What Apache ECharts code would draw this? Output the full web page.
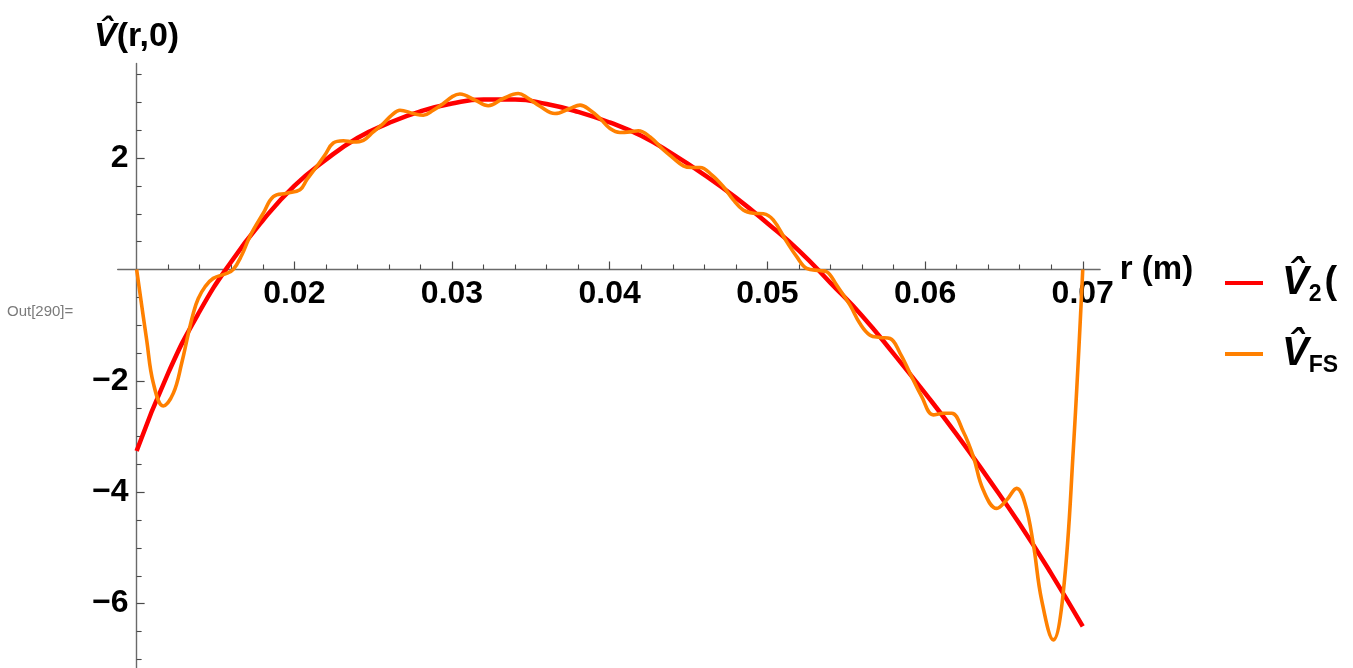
<!DOCTYPE html>
<html>
<head>
<meta charset="utf-8">
<script src="https://cdn.jsdelivr.net/npm/echarts@6/dist/echarts.min.js"></script>
<style>
  html, body { margin: 0; padding: 0; background: #ffffff; }
  #chart { width: 1353px; height: 668px; }
</style>
</head>
<body>
<div id="chart"></div>
<script>
// ---- axis ranges and ticks ----
const rMin = 0.0088, rMax = 0.0711, rOrigin = 0.01;
const rMajorTicks = [0.02, 0.03, 0.04, 0.05, 0.06, 0.07];
const rMinorTicks = [0.012, 0.014, 0.016, 0.018, 0.022, 0.024, 0.026, 0.028,
  0.032, 0.034, 0.036, 0.038, 0.042, 0.044, 0.046, 0.048, 0.052, 0.054, 0.056, 0.058,
  0.062, 0.064, 0.066, 0.068];
const vMin = -7.2, vMax = 3.7;
const vMajorTicks = [-6, -4, -2, 2];
const vMinorTicks = [-7, -6.5, -5.5, -5, -4.5, -3.5, -3, -2.5, -1.5, -1, -0.5,
  0.5, 1, 1.5, 2.5, 3, 3.5];

// ---- V2(r,0): smooth profile ----
const v2R = [0.010, 0.012, 0.014, 0.016, 0.018, 0.020, 0.022, 0.024, 0.026, 0.028,
  0.030, 0.032, 0.034, 0.036, 0.038, 0.040, 0.042, 0.044, 0.046, 0.048,
  0.050, 0.052, 0.054, 0.056, 0.058, 0.060, 0.062, 0.064, 0.066, 0.068, 0.070];
const v2V = [-3.26, -1.86, -0.75, 0.14, 0.88, 1.50, 1.97, 2.36, 2.63, 2.84,
  2.98, 3.05, 3.05, 2.97, 2.83, 2.64, 2.40, 2.07, 1.70, 1.29,
  0.83, 0.34, -0.24, -0.83, -1.51, -2.22, -2.96, -3.75, -4.57, -5.46, -6.41];

// ---- VFS(r,0): truncated Fourier series ----
const vfsR = [0.0100, 0.01064, 0.01106, 0.01169, 0.01233, 0.01286, 0.01328, 0.0136, 0.01391, 0.01434,
  0.01486, 0.01571, 0.01613, 0.01667, 0.01708, 0.0174, 0.01803, 0.01867, 0.01952, 0.02036,
  0.02079, 0.02142, 0.02195, 0.02247, 0.02311, 0.02374, 0.02438, 0.02501, 0.02564, 0.02618,
  0.0267, 0.02755, 0.02818, 0.02881, 0.02945, 0.0300, 0.0305, 0.03146, 0.0323, 0.03325,
  0.0342, 0.0348, 0.03558, 0.03653, 0.03748, 0.03812, 0.03876, 0.03939, 0.04002, 0.04065,
  0.04129, 0.04181, 0.04256, 0.0434, 0.04403, 0.04467, 0.0452, 0.04573, 0.04647, 0.0472,
  0.04784, 0.04847, 0.04911, 0.04974, 0.05037, 0.05122, 0.05186, 0.05249, 0.05333, 0.05376,
  0.05439, 0.05524, 0.05587, 0.05651, 0.05714, 0.05778, 0.05841, 0.05904, 0.05978, 0.06052,
  0.06115, 0.06169, 0.06242, 0.06306, 0.06369, 0.06454, 0.06517, 0.06581, 0.06634, 0.06686,
  0.06739, 0.06813, 0.06876, 0.0694, 0.0700];
const vfsV = [0.00, -1.27, -2.04, -2.45, -2.22, -1.68, -1.15, -0.78, -0.52, -0.31,
  -0.16, -0.07, 0.00, 0.26, 0.53, 0.71, 1.01, 1.31, 1.37, 1.43,
  1.61, 1.85, 2.06, 2.27, 2.31, 2.29, 2.32, 2.47, 2.62, 2.77,
  2.86, 2.80, 2.77, 2.86, 2.98, 3.10, 3.15, 3.04, 2.94, 3.07,
  3.16, 3.08, 2.93, 2.80, 2.89, 2.95, 2.86, 2.71, 2.53, 2.46,
  2.47, 2.49, 2.38, 2.15, 2.00, 1.86, 1.83, 1.83, 1.70, 1.49,
  1.25, 1.07, 1.01, 1.00, 0.89, 0.50, 0.23, 0.02, -0.02, -0.04,
  -0.28, -0.64, -0.97, -1.18, -1.22, -1.24, -1.50, -1.86, -2.28, -2.61,
  -2.58, -2.58, -2.91, -3.36, -3.96, -4.29, -4.14, -3.93, -4.20, -4.92,
  -5.93, -6.65, -5.81, -3.24, 0.00];

// ---- layout ----
const W = 1353, H = 668;
const gridLeft = 117.7, gridRight = 252.9, gridTop = 63.4, gridBottom = -2.5;
const pxPerR = (W - gridLeft - gridRight) / (rMax - rMin);
const pxPerV = (H - gridTop - gridBottom) / (vMax - vMin);
const yAxisShift = -(rOrigin - rMin) * pxPerR;   // vertical axis sits at r = 0.01
const xAxisShift = -(0 - vMin) * pxPerV;         // horizontal axis sits at V = 0

const FONT = '"Liberation Sans", Arial, sans-serif';
const AXIS_GRAY = '#6a6a6a';
const TICK_GRAY = '#4a4a4a';
const toMinus = v => (v < 0 ? '\u2212' + Math.abs(v) : String(v));

const chart = echarts.init(document.getElementById('chart'), null, { renderer: 'canvas' });

const labelStyle = { fontFamily: FONT, fontWeight: 'bold', fontSize: 32, color: '#000' };

chart.setOption({
  animation: false,
  backgroundColor: '#ffffff',
  grid: {
    left: gridLeft, right: gridRight, top: gridTop, bottom: gridBottom,
    containLabel: false, outerBoundsMode: 'none'
  },
  xAxis: [
    {
      type: 'value', min: rMin, max: rMax, position: 'bottom', offset: xAxisShift,
      axisLine: { onZero: false, lineStyle: { color: AXIS_GRAY, width: 1.4 } },
      axisTick: { inside: true, length: 8, customValues: rMajorTicks, lineStyle: { color: TICK_GRAY, width: 1.2 } },
      axisLabel: Object.assign({ customValues: rMajorTicks, margin: 9,
        formatter: v => v.toFixed(2) }, labelStyle),
      splitLine: { show: false },
      name: 'r (m)', nameLocation: 'end', nameGap: 17,
      nameTextStyle: { fontFamily: FONT, fontWeight: 'bold', fontSize: 33, color: '#000',
        verticalAlign: 'middle', padding: [13, 0, 0, 0] }
    },
    {
      type: 'value', min: rMin, max: rMax, position: 'bottom', offset: xAxisShift,
      axisLine: { show: false, onZero: false },
      axisTick: { inside: true, length: 5, customValues: rMinorTicks, lineStyle: { color: TICK_GRAY, width: 1.1 } },
      axisLabel: { show: false },
      splitLine: { show: false }
    }
  ],
  yAxis: [
    {
      type: 'value', min: vMin, max: vMax, position: 'left', offset: yAxisShift,
      axisLine: { onZero: false, lineStyle: { color: AXIS_GRAY, width: 1.4 } },
      axisTick: { inside: true, length: 8, customValues: vMajorTicks, lineStyle: { color: TICK_GRAY, width: 1.2 } },
      axisLabel: Object.assign({ customValues: vMajorTicks, margin: 8, formatter: toMinus }, labelStyle),
      splitLine: { show: false },
      name: '{v|V\u0302}{n|(r,0)}', nameLocation: 'end', nameGap: 10,
      nameTextStyle: {
        rich: {
          v: { fontFamily: FONT, fontWeight: 'bold', fontStyle: 'italic', fontSize: 34, color: '#000' },
          n: { fontFamily: FONT, fontWeight: 'bold', fontSize: 34, color: '#000' }
        }
      }
    },
    {
      type: 'value', min: vMin, max: vMax, position: 'left', offset: yAxisShift,
      axisLine: { show: false, onZero: false },
      axisTick: { inside: true, length: 5, customValues: vMinorTicks, lineStyle: { color: TICK_GRAY, width: 1.1 } },
      axisLabel: { show: false },
      splitLine: { show: false }
    }
  ],
  legend: {
    orient: 'vertical', left: 1225, top: 263, padding: 0,
    itemWidth: 38, itemHeight: 4, itemGap: 28, icon: 'rect',
    data: ['V2', 'VFS'],
    formatter: name => name === 'V2'
      ? '{sp|}{v|V\u0302}{s|2}{p|(}'
      : '{sp|}{v|V\u0302}{s|FS}',
    textStyle: {
      rich: {
        sp: { width: 14 },
        v: { fontFamily: FONT, fontWeight: 'bold', fontStyle: 'italic', fontSize: 40, lineHeight: 46, color: '#000' },
        s: { fontFamily: FONT, fontWeight: 'bold', fontSize: 23, lineHeight: 46, color: '#000', verticalAlign: 'bottom' },
        p: { fontFamily: FONT, fontWeight: 'bold', fontSize: 38, lineHeight: 46, color: '#000', padding: [0, 0, 0, 3] }
      }
    }
  },
  graphic: [
    {
      type: 'text', left: 7, top: 304,
      style: { text: 'Out[290]=', fontFamily: FONT, fontSize: 15, fill: '#7a7a7a' }
    }
  ],
  series: [
    {
      name: 'V2', type: 'line', xAxisIndex: 0, yAxisIndex: 0,
      data: v2R.map((r, i) => [r, v2V[i]]),
      smooth: 0.5, symbol: 'none', showSymbol: false,
      itemStyle: { color: '#ff0000' },
      lineStyle: { color: '#ff0000', width: 4.5 },
      z: 3
    },
    {
      name: 'VFS', type: 'line', xAxisIndex: 0, yAxisIndex: 0,
      data: vfsR.map((r, i) => [r, vfsV[i]]),
      smooth: 0.4, symbol: 'none', showSymbol: false,
      itemStyle: { color: '#ff8000' },
      lineStyle: { color: '#ff8000', width: 3.6 },
      z: 4
    }
  ]
});
</script>
</body>
</html>
